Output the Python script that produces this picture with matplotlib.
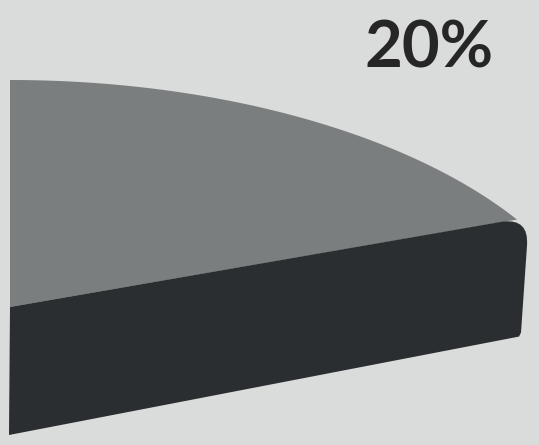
import numpy as np
import matplotlib
matplotlib.use("Agg")
import matplotlib.pyplot as plt
from matplotlib.patches import Polygon, PathPatch
from matplotlib.path import Path

# ---- data ----
share = [20]            # percent shown by the slice
labels = ["20%"]

# ---- style / geometry parameters (pixel frame) ----
W, H = 539, 445
bg = "#dadbdb"
top_col = "#7b7e7e"
side_col = "#2a2e30"
text_col = "#262626"

# tilted pie rim (ellipse in screen space)
cx, cy, rx, ry = 10, 380, 600, 300
apex = np.array([10.0, 307.0])       # tip of the slice on screen
tip_x = 517                          # where the rim meets the front cut edge
depth_o, depth_p = 128, 117          # thickness of the slice (near / far)

fig = plt.figure(figsize=(W / 100, H / 100), dpi=100)
fig.patch.set_facecolor(bg)
ax = fig.add_axes([0, 0, 1, 1])
ax.set_xlim(0, W)
ax.set_ylim(H, 0)
ax.axis("off")
ax.set_facecolor(bg)

# top face: apex -> rim end -> rim arc -> back edge
t_end = np.arccos((tip_x - cx) / rx)
t = np.linspace(t_end, np.pi / 2, 300)
rim_x = cx + rx * np.cos(t)
rim_y = cy - ry * np.sin(t)
top = np.column_stack([np.r_[apex[0], rim_x], np.r_[apex[1], rim_y]])
ax.add_patch(Polygon(top, closed=True, facecolor=top_col, edgecolor="none", zorder=2))

# front cut face with a softened far corner
P = np.array([rim_x[0], rim_y[0]])
Ob = apex + np.array([-1, depth_o])
Pb = P + np.array([2, depth_p])
verts = [tuple(apex), tuple(P - np.array([14, -2])),
         tuple(P + np.array([12, -1])), tuple(P + np.array([10, 26])),
         tuple(Pb + np.array([2, -4])), tuple(Pb), tuple(Ob), tuple(apex)]
codes = [Path.MOVETO, Path.LINETO, Path.CURVE3, Path.CURVE3,
         Path.LINETO, Path.LINETO, Path.LINETO, Path.CLOSEPOLY]
ax.add_patch(PathPatch(Path(verts, codes), facecolor=side_col, edgecolor="none", zorder=3))

# label
ax.text(429, 67, labels[0], ha="center", va="baseline", fontsize=47,
        fontweight="bold", family=["Lato", "DejaVu Sans"], color=text_col, zorder=4)

fig.savefig("out.png", dpi=100, facecolor=bg)
